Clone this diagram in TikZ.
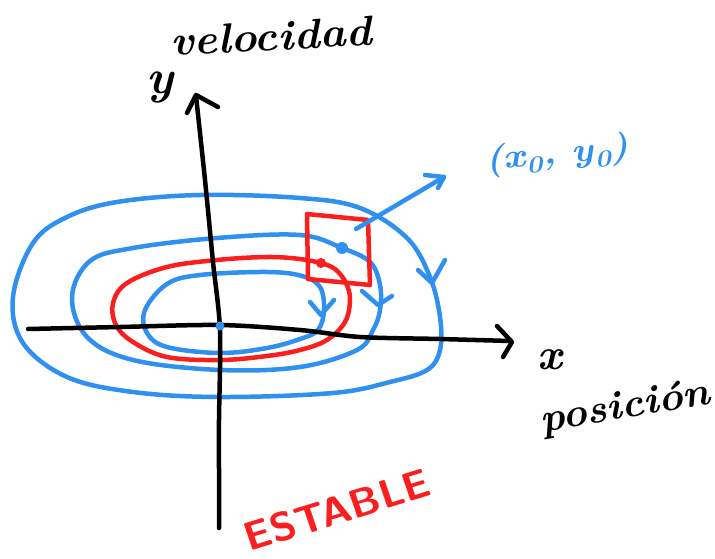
\documentclass[tikz,border=0pt]{standalone}
\usepackage{fontspec}
\begin{document}
\begin{tikzpicture}[x=1pt,y=-1pt,line cap=round,line join=round]
\definecolor{penblue}{RGB}{48,144,240}
\definecolor{penred}{RGB}{250,30,30}
\tikzset{
  ink/.style={line width=4.5pt},
  blueink/.style={ink,draw=penblue},
  redink/.style={ink,draw=penred},
  blackink/.style={ink,draw=black},
  hand/.style={inner sep=0pt}
}
\useasboundingbox (0,0) rectangle (715,559);
\fill[white] (0,0) rectangle (715,559);

% outer trajectory
\draw[blueink] plot[smooth cycle,tension=0.6] coordinates {
 (13,297) (33,243) (67,217) (117,202) (200,195) (300,198) (360,208)
 (407,238) (430,277) (440,317) (440,350) (427,370) (390,382) (333,393)
 (220,397) (133,392) (67,377) (23,343)};
% middle trajectory (through x0,y0)
\draw[blueink] plot[smooth cycle,tension=0.6] coordinates {
 (72,297) (90,261) (133,248) (217,238) (300,235) (342,248) (370,262)
 (380,285) (380,310) (373,330) (357,350) (300,367) (220,370) (133,360) (87,337)};
% inner trajectory
\draw[blueink] plot[smooth cycle,tension=0.6] coordinates {
 (145,310) (167,284) (200,275) (267,272) (302,276) (320,287) (324,310)
 (318,330) (300,339) (267,348) (220,353) (167,347) (147,333)};

% arrow heads on trajectories
\draw[blueink] (418,270) -- (432,283) -- (445,260);
\draw[blueink] (362,291) -- (378,305) -- (392,296);
\draw[blueink] (310,302) -- (321,315) -- (334,300);

% red perturbed trajectory
\draw[redink] plot[smooth,tension=0.6] coordinates {
 (321,263) (335,269) (346,283) (350,300) (345,322) (327,340) (300,350)
 (267,356) (220,360) (167,357) (133,342) (116,325) (113,303) (127,283)
 (167,267) (217,260) (267,257) (300,259) (321,263)};
% red box
\draw[redink] (307,214) -- (368,220) -- (370,285) -- (308,279) -- cycle;

% axes
\draw[blackink] plot[smooth,tension=0.5] coordinates {
 (28,329) (120,327) (220,325) (300,330) (360,337) (440,339) (510,341)};
\draw[blackink] (497,326) -- (512,342) -- (503,357);
\draw[blackink] plot[smooth,tension=0.5] coordinates {
 (219,528) (219,470) (219,420) (220,330) (213,262) (205,180) (196,96)};
\draw[blackink] (187,113) -- (196,95) -- (218,107);

% dots
\fill[penblue] (220,326) circle (4.5pt);
\fill[penblue] (342,248) circle (6pt);
\fill[penred] (321,263) circle (5pt);

% arrow to label
\draw[blueink] (356,229) -- (444,177);
\draw[blueink] (425,175) -- (444,177) -- (438,188);

% labels
\node[hand,font=\fontsize{42}{44}\selectfont\bfseries\itshape,xscale=1.05,rotate=3] (vel) at (271,36) {velocidad};
\node[hand,font=\fontsize{48}{50}\selectfont\bfseries\itshape] (ylab) at (160,88) {y};
\node[hand,font=\fontsize{44}{46}\selectfont\bfseries\itshape] (xlab) at (550,360) {x};
\node[hand,font=\fontsize{40}{42}\selectfont\bfseries\itshape,xscale=1.05,rotate=10] (pos) at (625,408) {posición};
\node[hand,text=penblue,font=\fontsize{34}{36}\selectfont\bfseries\itshape,xscale=1.15,rotate=6] (x0) at (557,155) {(x\textsubscript{0}, y\textsubscript{0})};
\node[hand,text=penred,font=\fontsize{40}{42}\selectfont\sffamily\bfseries,xscale=1.05,rotate=18] (est) at (337,510) {ESTABLE};
\end{tikzpicture}
\end{document}
